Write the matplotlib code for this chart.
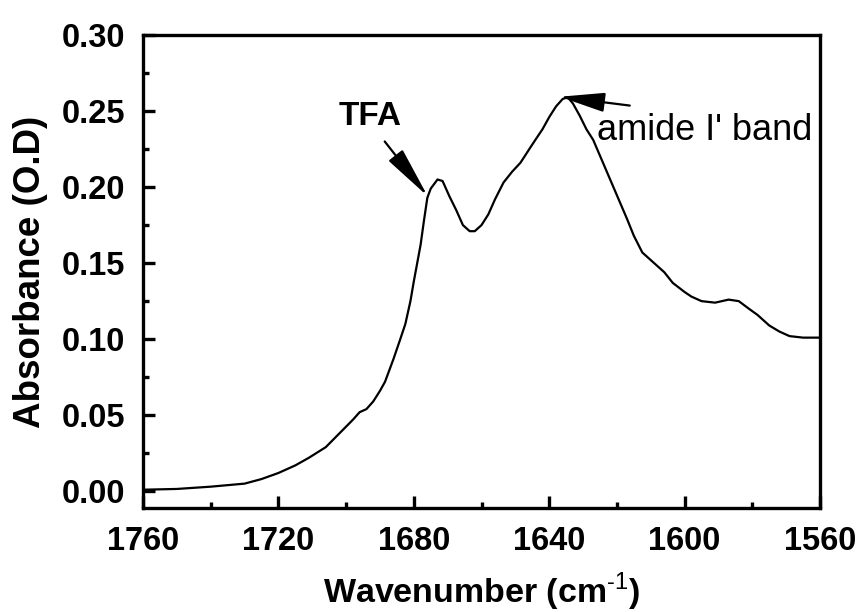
import matplotlib.pyplot as plt
from matplotlib.ticker import MultipleLocator

plt.rcParams['font.family'] = ['Liberation Sans', 'DejaVu Sans']
plt.rcParams['mathtext.fontset'] = 'custom'
plt.rcParams['mathtext.rm'] = 'Liberation Sans'
plt.rcParams['mathtext.bf'] = 'Liberation Sans:bold'

# FTIR spectrum, absorbance vs wavenumber
wavenumber = [1760, 1750, 1740, 1730, 1725, 1720, 1715, 1711, 1706, 1702,
              1698, 1696, 1694, 1692, 1690, 1688.5, 1686, 1684, 1682.5, 1681,
              1680, 1678, 1677, 1676, 1675, 1673, 1671.5, 1669.5, 1667.5, 1665.5,
              1663.5, 1662, 1660, 1658, 1656, 1653.5, 1651, 1648.5, 1645, 1642,
              1640, 1638, 1636, 1634.5, 1633, 1631, 1629, 1627, 1624.5, 1622,
              1619.5, 1617, 1615, 1612.5, 1610, 1606, 1603.5, 1600, 1598, 1595,
              1591, 1587, 1584, 1581, 1578.5, 1575, 1572, 1569, 1565, 1560]
absorbance = [0.001, 0.0015, 0.003, 0.005, 0.008, 0.012, 0.017, 0.022, 0.029, 0.038,
              0.047, 0.052, 0.054, 0.059, 0.066, 0.072, 0.087, 0.100, 0.110, 0.125,
              0.138, 0.162, 0.178, 0.193, 0.199, 0.205, 0.204, 0.194, 0.185, 0.175,
              0.171, 0.171, 0.175, 0.182, 0.192, 0.203, 0.210, 0.216, 0.228, 0.238,
              0.246, 0.253, 0.258, 0.259, 0.255, 0.247, 0.238, 0.231, 0.218, 0.205,
              0.192, 0.179, 0.168, 0.157, 0.152, 0.144, 0.137, 0.131, 0.128, 0.125,
              0.124, 0.126, 0.125, 0.120, 0.116, 0.109, 0.105, 0.102, 0.101, 0.101]

fig = plt.figure(figsize=(8.6, 6.12), dpi=100)
ax = fig.add_axes([0.1663, 0.170, 0.7872, 0.7728])

ax.plot(wavenumber, absorbance, color='black', linewidth=1.6)

ax.set_xlim(1760, 1560)
ax.set_ylim(-0.011, 0.30)
ax.xaxis.set_major_locator(MultipleLocator(40))
ax.xaxis.set_minor_locator(MultipleLocator(20))
ax.yaxis.set_major_locator(MultipleLocator(0.05))
ax.yaxis.set_minor_locator(MultipleLocator(0.025))
ax.yaxis.set_major_formatter(lambda v, p: f"{v:.2f}")

for s in ax.spines.values():
    s.set_linewidth(2.4)
ax.tick_params(which='both', direction='in', top=False, right=False, width=2.4)
ax.tick_params(which='major', length=8.5, pad=13, labelsize=23.5)
ax.tick_params(which='minor', length=4.5)
for lab in ax.get_xticklabels() + ax.get_yticklabels():
    lab.set_fontweight('bold')

ax.set_xlabel('Wavenumber (cm$^{\\text{-1}}$)', fontsize=24.5, fontweight='bold', labelpad=10)
ax.set_ylabel('Absorbance (O.D)', fontsize=26.5, fontweight='bold', labelpad=10)

# peak labels
ax.text(1693, 0.2464, 'TFA', fontsize=24, fontweight='bold', ha='center', va='center')
ax.annotate('', xy=(1675.9, 0.194), xytext=(1688.6, 0.230),
            arrowprops=dict(arrowstyle='-|>,head_length=3.2,head_width=0.55',
                            mutation_scale=10, color='black', lw=1.6,
                            shrinkA=0, shrinkB=0))
ax.annotate('', xy=(1636.9, 0.2594), xytext=(1616.2, 0.2536),
            arrowprops=dict(arrowstyle='-|>,head_length=2.8,head_width=0.6',
                            mutation_scale=10, color='black', lw=1.6,
                            shrinkA=0, shrinkB=0))
ax.text(1626, 0.237, "amide I' band", fontsize=26, ha='left', va='center')

fig.savefig('out.png', dpi=100)
